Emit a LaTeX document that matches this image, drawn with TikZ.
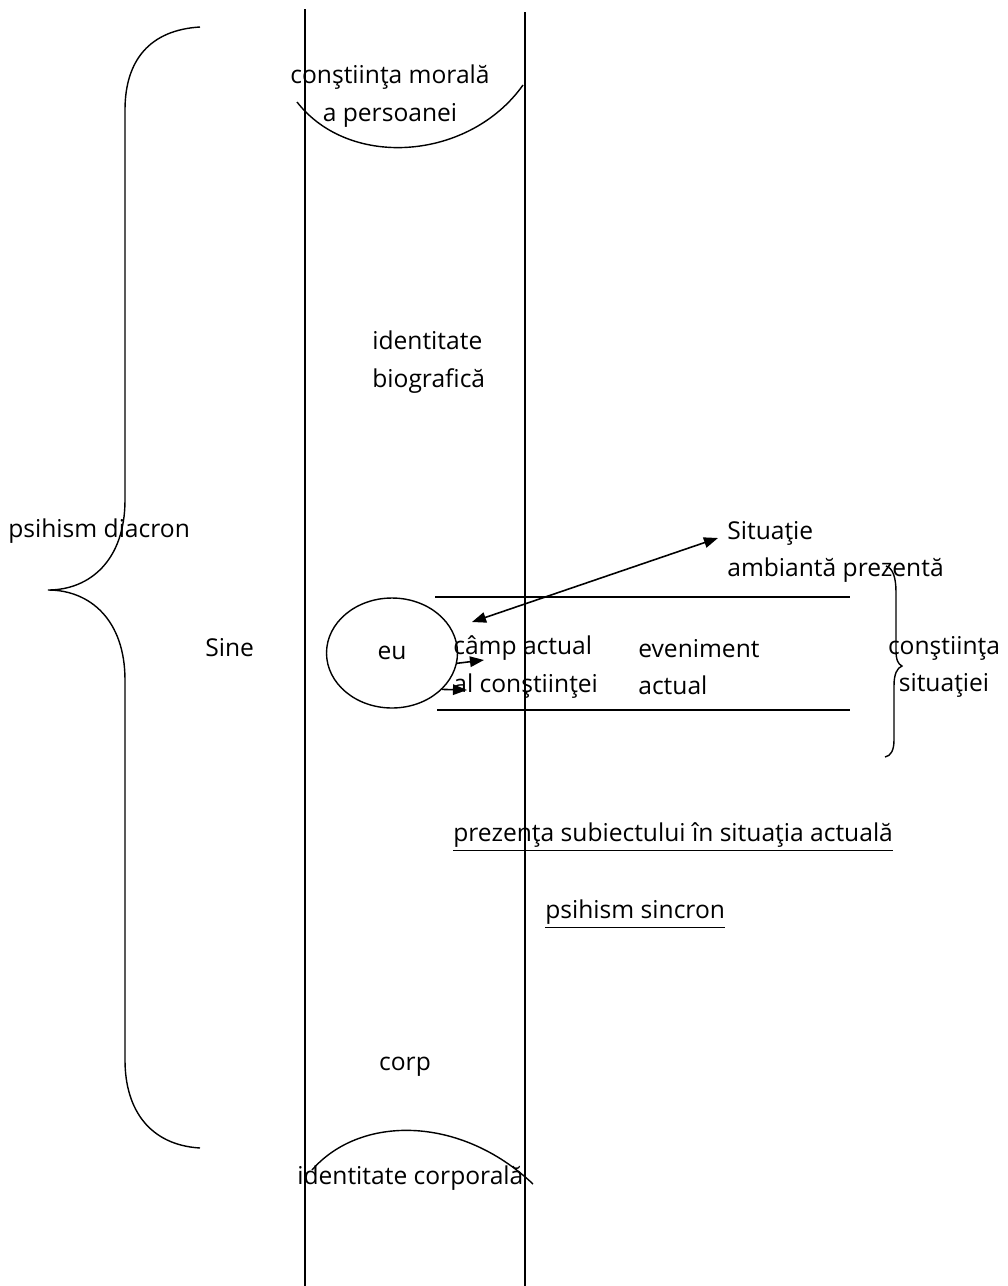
\documentclass[tikz,border=0pt]{standalone}
\usepackage{fontspec}
\setmainfont{Open Sans}
\usetikzlibrary{arrows.meta,shapes.geometric}

\begin{document}
\begin{tikzpicture}[x=0.02cm,y=-0.02cm,
  txt/.style={inner sep=0pt,font=\fontsize{14}{21.5}\selectfont},
  ln/.style={line width=0.8pt},
  arr/.style={line width=0.9pt,-{Triangle[length=8pt,width=6pt]}}]
\useasboundingbox (0,0) rectangle (1008,1286);

% the two columns
\coordinate (L1) at (305,9);
\coordinate (L2) at (305,1286);
\coordinate (R1) at (525,12);
\coordinate (R2) at (525,1286);
\draw[line width=1pt] (L1)--(L2);
\draw[line width=1pt] (R1)--(R2);

% texts
\node[txt,align=center] (morala) at (390,96) {conştiinţa morală\\a persoanei};
\node[txt,align=left,anchor=west] (bio) at (372,362) {identitate\\biografică};
\node[txt,anchor=west] (diacron) at (8,531) {psihism diacron};
\node[txt,anchor=west] (sine) at (205,648) {Sine};
\node[txt,draw,ln,ellipse,minimum width=2.62cm,minimum height=2.2cm] (eu) at (392,653) {eu};
\node[txt,align=left,anchor=west] (camp) at (453,667) {câmp actual\\al conştiinţei};
\node[txt,align=left,anchor=west] (even) at (638,667) {eveniment\\actual};
\node[txt,align=center] (consit) at (944,667) {conştiinţa\\situaţiei};
\node[txt,align=left,anchor=west] (situatie) at (727,552) {Situaţie\\ambiantă prezentă};
\node[txt,anchor=west] (prezenta) at (453,837) {\underline{prezenţa subiectului în situaţia actuală}};
\node[txt,anchor=west] (sincron) at (545,914) {\underline{psihism sincron}};
\node[txt] (corp) at (405,1067) {corp};
\node[txt,anchor=west] (corporala) at (297,1178) {identitate corporală};

% field of the present situation
\coordinate (H1) at (435,597);
\coordinate (H2) at (850,597);
\coordinate (H3) at (437,710);
\coordinate (H4) at (850,710);
\draw[ln] (H1)--(H2);
\draw[ln] (H3)--(H4);

% arcs
\draw[ln] (297,102) .. controls (350,170) and (470,160) .. (523,85);
\draw[ln] (312,1170) .. controls (360,1115) and (460,1115) .. (533,1184);

% braces
\draw[ln] (200,27) .. controls (150,30) and (125,60) .. (125,110) -- (125,500)
  .. controls (125,560) and (90,590) .. (48,590)
  .. controls (90,590) and (125,620) .. (125,680) -- (125,1060)
  .. controls (125,1110) and (150,1145) .. (200,1148);
\draw[ln] (886,566) .. controls (893,568) and (896,578) .. (896,592) -- (896,650)
  .. controls (896,660) and (898,664) .. (902,666)
  .. controls (897,668) and (894,674) .. (894,686) -- (894,740)
  .. controls (894,750) and (891,756) .. (885,757);

% arrows
\coordinate (A1) at (472,622);
\coordinate (A2) at (718,538);
\draw[line width=0.9pt,{Triangle[length=8pt,width=6pt]}-{Triangle[length=8pt,width=6pt]}] (A1)--(A2);
\coordinate (B1) at (484,660);
\coordinate (B2) at (467,690);
\draw[arr] (eu.-9)--(B1);
\draw[arr] (eu.-36)--(B2);

\end{tikzpicture}
\end{document}
